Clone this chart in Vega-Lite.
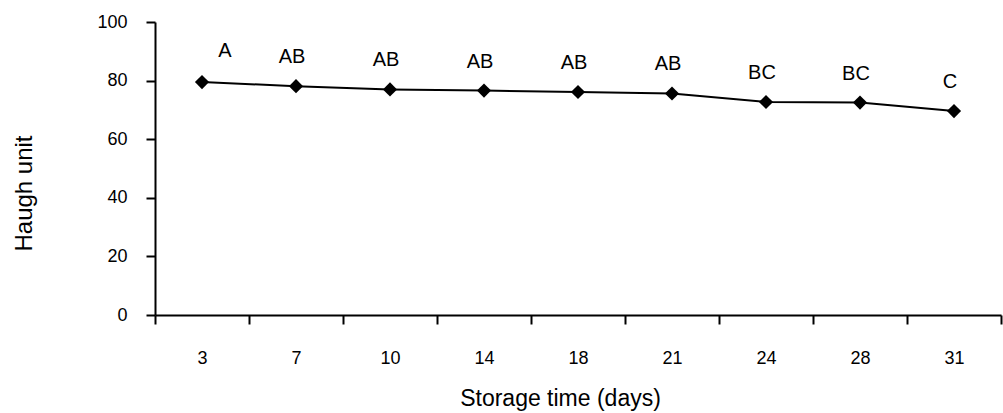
{
  "$schema": "https://vega.github.io/schema/vega-lite/v6.json",
  "autosize": {"type": "none"},
  "padding": {"left": 155, "top": 22, "right": 2, "bottom": 98},
  "width": 846,
  "height": 293,
  "background": "white",
  "config": {
    "view": {"stroke": null},
    "font": "Liberation Sans",
    "axis": {"grid": false, "domainColor": "black", "tickColor": "black", "labelColor": "black", "titleColor": "black", "domainWidth": 2, "tickWidth": 2, "titleFontWeight": "normal"}
  },
  "data": {
    "values": [
      {"day": "3", "hu": 79.5, "grp": "A"},
      {"day": "7", "hu": 78.1, "grp": "AB"},
      {"day": "10", "hu": 77.0, "grp": "AB"},
      {"day": "14", "hu": 76.6, "grp": "AB"},
      {"day": "18", "hu": 76.1, "grp": "AB"},
      {"day": "21", "hu": 75.6, "grp": "AB"},
      {"day": "24", "hu": 72.7, "grp": "BC"},
      {"day": "28", "hu": 72.5, "grp": "BC"},
      {"day": "31", "hu": 69.6, "grp": "C"}
    ]
  },
  "encoding": {
    "x": {
      "field": "day", "type": "ordinal", "sort": null, "bandPosition": 0.5,
      "scale": {"type": "band", "paddingInner": 0, "paddingOuter": 0},
      "axis": {"title": "Storage time (days)", "labelAngle": 0, "labelFontSize": 18, "labelPadding": 25, "tickSize": 9, "tickBand": "extent", "titleFontSize": 23, "titlePadding": 20, "titleX": 405}
    },
    "y": {
      "field": "hu", "type": "quantitative",
      "scale": {"domain": [0, 100], "nice": false, "zero": true},
      "axis": {"title": "Haugh unit", "values": [0, 20, 40, 60, 80, 100], "labelFontSize": 18, "labelPadding": 19, "tickSize": 9, "titleFontSize": 24, "titleX": -131, "titleY": 171, "titleBaseline": "middle", "titleAngle": 270}
    }
  },
  "layer": [
    {"mark": {"type": "line", "color": "black", "strokeWidth": 2}},
    {"mark": {"type": "point", "shape": "diamond", "filled": true, "color": "black", "size": 200, "opacity": 1}},
    {
      "transform": [{"filter": "datum.day != '3'"}],
      "mark": {"type": "text", "fontSize": 20, "dy": -29, "dx": -4, "baseline": "middle", "color": "black"},
      "encoding": {"text": {"field": "grp"}}
    },
    {
      "transform": [{"filter": "datum.day == '3'"}],
      "mark": {"type": "text", "fontSize": 20, "dy": -31, "dx": 23, "baseline": "middle", "color": "black"},
      "encoding": {"text": {"field": "grp"}}
    }
  ]
}
